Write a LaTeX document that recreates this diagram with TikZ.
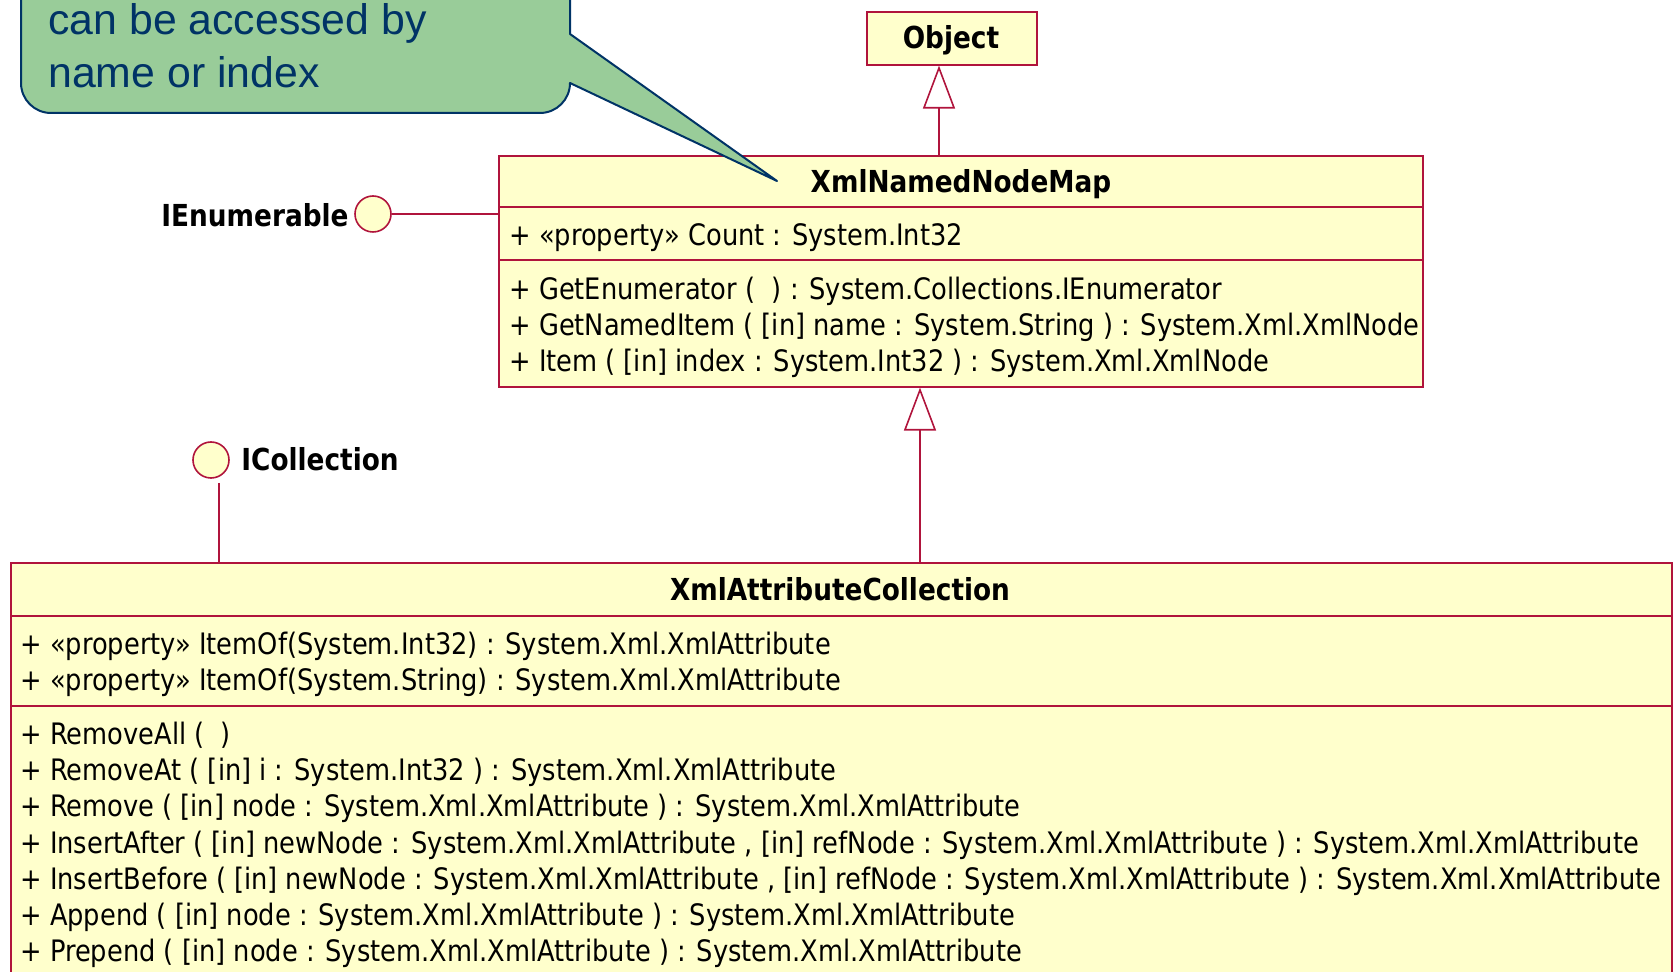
\documentclass[tikz,border=0pt]{standalone}
\usepackage{fontspec}
\setmainfont{Liberation Sans}
\newfontfamily\umlfont[FakeStretch=0.87]{DejaVu Sans}
\newfontfamily\notefont{Liberation Sans}
\usetikzlibrary{arrows.meta}
\definecolor{umlred}{HTML}{B0143C}
\definecolor{umlfill}{HTML}{FFFFCC}
\definecolor{notefill}{HTML}{99CC99}
\definecolor{noteline}{HTML}{003366}
\newlength\umlw
\newcommand\umlfs{\umlfont\fontsize{\umlsize pt}{18pt}\selectfont}
\newcommand\umlbf{\umlfont\fontsize{\umlbsize pt}{18pt}\selectfont\bfseries}
\AtBeginDocument{%
\settowidth\umlw{\umlfont\fontsize{10pt}{12pt}\selectfont + InsertBefore ( [in] newNode : System.Xml.XmlAttribute , [in] refNode : System.Xml.XmlAttribute ) : System.Xml.XmlAttribute}%
\pgfmathsetmacro\umlsize{10*820.5/\umlw}%
\pgfmathsetmacro\umlbsize{1.025*\umlsize}}
\begin{document}
\begin{tikzpicture}[x=0.5pt,y=-0.5pt,
  umlbox/.style={draw=umlred, fill=umlfill, line width=0.8pt, rectangle, inner sep=0pt, anchor=north west},
  member/.style={anchor=mid west, inner sep=0pt, font=\umlfs},
  umltitle/.style={anchor=mid, inner sep=0pt, font=\umlbf},
  sepline/.style={draw=umlred, line width=0.8pt},
  conn/.style={draw=umlred, line width=0.8pt},
  gen/.style={draw=umlred, line width=0.8pt, -{Triangle[open, length=21.5pt, width=16pt]}},
  lolli/.style={circle, draw=umlred, fill=umlfill, line width=0.8pt, minimum size=18pt, inner sep=0pt},
  notetext/.style={anchor=base west, inner sep=0pt, text=noteline, font=\notefont\fontsize{21.4pt}{26pt}\selectfont}
]
\path[use as bounding box, clip] (0,0) rectangle (1677,972);

% Object
\node[umlbox, minimum width=85pt, minimum height=26.5pt] (obj) at (866,11) {};
\node[umltitle] (objt) at (951,43) {Object};

% XmlNamedNodeMap
\node[umlbox, minimum width=462pt, minimum height=115.5pt] (map) at (498,155) {};
\node[umltitle] (mapt) at (961,187) {XmlNamedNodeMap};
\draw[sepline] (498,207) -- (1422,207);
\draw[sepline] (498,260) -- (1422,260);
\node[member] (m1) at (509,240) {+ «property» Count : System.Int32};
\node[member] (m2) at (509,294) {+ GetEnumerator (~ ) : System.Collections.IEnumerator};
\node[member] (m3) at (509,330) {+ GetNamedItem ( [in] name : System.String ) : System.Xml.XmlNode};
\node[member] (m4) at (509,366) {+ Item ( [in] index : System.Int32 ) : System.Xml.XmlNode};

% XmlAttributeCollection
\node[umlbox, minimum width=830.5pt, minimum height=220pt] (coll) at (10,562) {};
\node[umltitle] (collt) at (840,595) {XmlAttributeCollection};
\draw[sepline] (10,616) -- (1671,616);
\draw[sepline] (10,706) -- (1671,706);
\node[member] (c1) at (20,649) {+ «property» ItemOf(System.Int32) : System.Xml.XmlAttribute};
\node[member] (c2) at (20,685) {+ «property» ItemOf(System.String) : System.Xml.XmlAttribute};
\node[member] (c3) at (20,739) {+ RemoveAll (~ )};
\node[member] (c4) at (20,775) {+ RemoveAt ( [in] i : System.Int32 ) : System.Xml.XmlAttribute};
\node[member] (c5) at (20,811) {+ Remove ( [in] node : System.Xml.XmlAttribute ) : System.Xml.XmlAttribute};
\node[member] (c6) at (20,848) {+ InsertAfter ( [in] newNode : System.Xml.XmlAttribute , [in] refNode : System.Xml.XmlAttribute ) : System.Xml.XmlAttribute};
\node[member] (c7) at (20,884) {+ InsertBefore ( [in] newNode : System.Xml.XmlAttribute , [in] refNode : System.Xml.XmlAttribute ) : System.Xml.XmlAttribute};
\node[member] (c8) at (20,920) {+ Append ( [in] node : System.Xml.XmlAttribute ) : System.Xml.XmlAttribute};
\node[member] (c9) at (20,956) {+ Prepend ( [in] node : System.Xml.XmlAttribute ) : System.Xml.XmlAttribute};

% generalizations
\coordinate (g1) at (939,0);
\coordinate (g2) at (920,0);
\draw[gen] (map.north -| g1) -- (obj.south -| g1);
\draw[gen] (coll.north -| g2) -- (map.south -| g2);

% interfaces
\node[lolli] (ienum) at (373,214) {};
\node[umltitle, anchor=mid east] (ienuml) at (349,221) {IEnumerable};
\draw[conn] (ienum.east) -- (map.west |- ienum.east);

\node[lolli] (icoll) at (211,460) {};
\node[umltitle, anchor=mid west] (icolll) at (241,465) {ICollection};
\coordinate (icl) at (219,483);
\draw[conn] (icl) -- (coll.north -| icl);

% callout (drawn on top)
\draw[fill=notefill, draw=noteline, line width=1pt, line join=round]
  (21,-60) -- (21,83) arc[start angle=180, end angle=90, radius=30]
  -- (540,113) arc[start angle=90, end angle=0, radius=30]
  -- (777,181) -- (570,34) -- (570,-60) -- cycle;
\node[notetext] (note1) at (48,35) {can be accessed by};
\node[notetext] (note2) at (48,88) {name or index};
\end{tikzpicture}
\end{document}
